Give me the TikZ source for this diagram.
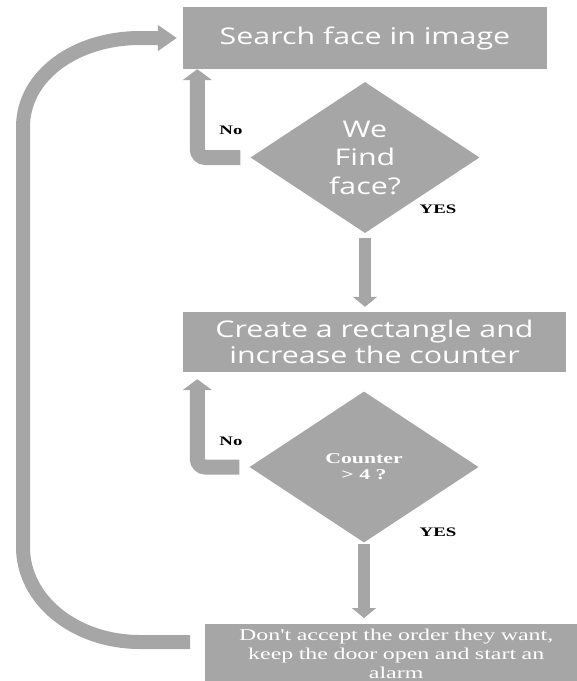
\documentclass[tikz,border=0pt]{standalone}
\usepackage{fontspec}
\usetikzlibrary{shapes.geometric,arrows.meta}
\newfontfamily\boxfont[FakeStretch=1.32]{Open Sans}
\newfontfamily\labelfont[FakeStretch=1.45]{Liberation Serif}
\definecolor{flowgray}{HTML}{A6A6A6}

\begin{document}
\begin{tikzpicture}[x=1pt,y=-1pt,
    procbox/.style={rectangle,fill=flowgray,text=white,inner sep=0pt,align=center,
        font=\boxfont\fontsize{23}{26.5}\selectfont},
    decision/.style={diamond,fill=flowgray,text=white,inner sep=0pt,aspect=1.52,
        minimum width=229pt,minimum height=151pt,align=center},
    answer/.style={font=\labelfont\bfseries\fontsize{13}{15}\selectfont,inner sep=0pt},
    flow/.style={flowgray,line width=12pt,-{Triangle[width=24pt,length=10pt]}},
    back/.style={flowgray,line width=15pt,rounded corners=8pt,-{Triangle[width=29pt,length=11pt]}},
    returnloop/.style={flowgray,line width=14pt,-{Triangle[width=25pt,length=19pt]}}]
    \useasboundingbox (0,0) rectangle (577,681);
    % boxes and decisions
    \node[procbox,minimum width=364pt,minimum height=62pt] (search) at (365,38) {Search face in image};
    \node[decision,font=\boxfont\fontsize{23}{28.5}\selectfont] (find) at (365,157.5) {We\\Find\\face?};
    \node[procbox,minimum width=383pt,minimum height=60pt] (create) at (374.5,342) {Create a rectangle and\\increase the counter};
    \node[decision,font=\labelfont\bfseries\fontsize{15}{16}\selectfont] (count) at (364,467) {Counter\\> 4 ?};
    \node[procbox,anchor=north west,text width=370pt,inner xsep=6pt,inner ysep=5pt,
        font=\labelfont\fontsize{16.5}{19}\selectfont] (alarm) at (205,624)
        {Don't accept the order they want,\\keep the door open and start an\\alarm};
    % answers
    \node[answer] (nofind) at (231,130) {No};
    \node[answer] (yesfind) at (438,209) {YES};
    \node[answer] (nocount) at (231,441) {No};
    \node[answer] (yescount) at (438,532) {YES};
    % arrows
    \draw[back] ([xshift=-10pt]find.west) -| ([xshift=14.5pt]search.south west);
    \draw[flow] ([yshift=-5pt]find.south) -- ([yshift=5pt]find.south |- create.north);
    \draw[back] ([xshift=-10pt]count.west) -| ([xshift=14.5pt,yshift=-7pt]create.south west);
    \draw[flow] ([yshift=-1pt]count.south) -- ([yshift=6pt]count.south |- alarm.north);
    % loop back to the start
    \coordinate (loopstart) at ([xshift=-15pt,yshift=-18pt]alarm.north west);
    \draw[returnloop] (loopstart) -- (140,642) .. controls (75,642) and (23,600) .. (23,547)
        -- (23,127) .. controls (23,76) and (75,38) .. (140,38) -- ([xshift=-6pt]search.west);
\end{tikzpicture}
\end{document}
